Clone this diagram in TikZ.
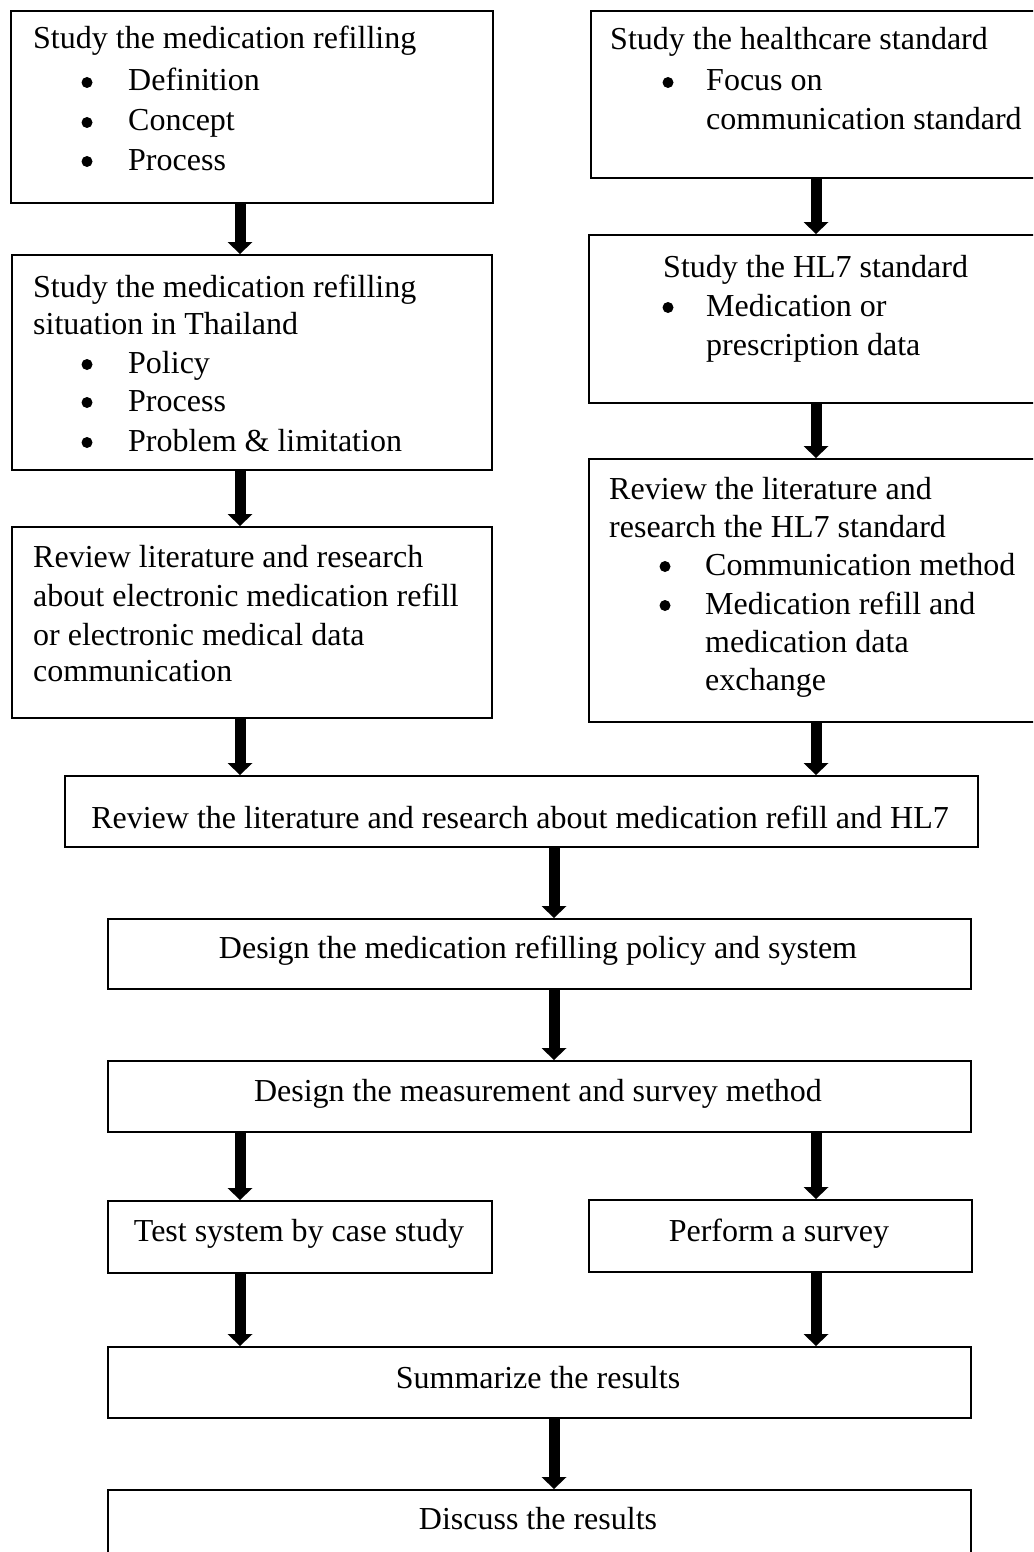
\documentclass[tikz,border=0pt]{standalone}
\usepackage{fontspec}
\setmainfont{Liberation Serif}
\usetikzlibrary{arrows.meta}
\begin{document}
\begin{tikzpicture}[x=1pt,y=-1pt,
  font=\fontsize{32}{39}\selectfont,
  box/.style={draw=black,line width=2pt,inner sep=0pt,anchor=north west,fill=none},
  txt/.style={anchor=base west,inner sep=0pt},
  ctxt/.style={anchor=base,inner sep=0pt},
  bul/.style={circle,fill=black,inner sep=0pt,minimum size=11pt,yshift=8.5pt},
  arr/.style={line width=11pt,-{Triangle[width=25pt,length=12pt,line width=0pt]}}]
\clip (0,0) rectangle (1033,1552);
\fill[white] (0,0) rectangle (1033,1552);
% columns for connectors
\coordinate (colL) at (240,0);
\coordinate (colR) at (816,0);
\coordinate (colM) at (554,0);
% boxes
\node[box,minimum width=482pt,minimum height=192pt] (b1) at (10,10) {};
\node[box,minimum width=480pt,minimum height=215pt] (b2) at (11,254) {};
\node[box,minimum width=480pt,minimum height=191pt] (b3) at (11,526) {};
\node[box,minimum width=450pt,minimum height=167pt] (r1) at (590,10) {};
\node[box,minimum width=452pt,minimum height=168pt] (r2) at (588,234) {};
\node[box,minimum width=452pt,minimum height=263pt] (r3) at (588,458) {};
\node[box,minimum width=913pt,minimum height=71pt] (m1) at (64,775) {};
\node[box,minimum width=863pt,minimum height=70pt] (d1) at (107,918) {};
\node[box,minimum width=863pt,minimum height=71pt] (d2) at (107,1060) {};
\node[box,minimum width=384pt,minimum height=72pt] (t1) at (107,1200) {};
\node[box,minimum width=383pt,minimum height=72pt] (p1) at (588,1199) {};
\node[box,minimum width=863pt,minimum height=71pt] (s1) at (107,1346) {};
\node[box,minimum width=863pt,minimum height=90pt] (c1) at (107,1489) {};
% texts: box b1
\node[txt] (b1t1) at (33,49) {Study the medication refilling};
\node[bul] (b1u1) at (87,91) {};
\node[txt] (b1t2) at (128,91) {Definition};
\node[bul] (b1u2) at (87,131) {};
\node[txt] (b1t3) at (128,131) {Concept};
\node[bul] (b1u3) at (87,170) {};
\node[txt] (b1t4) at (128,170) {Process};
% box b2
\node[txt] (b2t1) at (33,297) {Study the medication refilling};
\node[txt] (b2t2) at (33,334) {situation in Thailand};
\node[bul] (b2u1) at (87,373) {};
\node[txt] (b2t3) at (128,373) {Policy};
\node[bul] (b2u2) at (87,411) {};
\node[txt] (b2t4) at (128,411) {Process};
\node[bul] (b2u3) at (87,451) {};
\node[txt] (b2t5) at (128,451) {Problem \& limitation};
% box b3
\node[txt] (b3t1) at (33,567) {Review literature and research};
\node[txt] (b3t2) at (33,606) {about electronic medication refill};
\node[txt] (b3t3) at (33,645) {or electronic medical data};
\node[txt] (b3t4) at (33,681) {communication};
% box r1
\node[txt] (r1t1) at (610,50) {Study the healthcare standard};
\node[bul] (r1u1) at (668,91) {};
\node[txt] (r1t2) at (706,91) {Focus on};
\node[txt] (r1t3) at (706,130) {communication standard};
% box r2
\node[txt] (r2t1) at (663,277) {Study the HL7 standard};
\node[bul] (r2u1) at (668,316) {};
\node[txt] (r2t2) at (706,316) {Medication or};
\node[txt] (r2t3) at (706,355) {prescription data};
% box r3
\node[txt] (r3t1) at (609,499) {Review the literature and};
\node[txt] (r3t2) at (609,537) {research the HL7 standard};
\node[bul] (r3u1) at (665,575) {};
\node[txt] (r3t3) at (705,575) {Communication method};
\node[bul] (r3u2) at (665,614) {};
\node[txt] (r3t4) at (705,614) {Medication refill and};
\node[txt] (r3t5) at (705,652) {medication data};
\node[txt] (r3t6) at (705,690) {exchange};
% single-line boxes
\node[ctxt] (m1t) at (520,828) {Review the literature and research about medication refill and HL7};
\node[ctxt] (d1t) at (538,958) {Design the medication refilling policy and system};
\node[ctxt] (d2t) at (538,1101) {Design the measurement and survey method};
\node[ctxt] (t1t) at (299,1241) {Test system by case study};
\node[ctxt] (p1t) at (779,1241) {Perform a survey};
\node[ctxt] (s1t) at (538,1388) {Summarize the results};
\node[ctxt] (c1t) at (538,1529) {Discuss the results};
% connectors
\draw[arr] (b1.south -| colL) -- (b2.north -| colL);
\draw[arr] (b2.south -| colL) -- (b3.north -| colL);
\draw[arr] (b3.south -| colL) -- (m1.north -| colL);
\draw[arr] (r1.south -| colR) -- (r2.north -| colR);
\draw[arr] (r2.south -| colR) -- (r3.north -| colR);
\draw[arr] (r3.south -| colR) -- (m1.north -| colR);
\draw[arr] (m1.south -| colM) -- (d1.north -| colM);
\draw[arr] (d1.south -| colM) -- (d2.north -| colM);
\draw[arr] (d2.south -| colL) -- (t1.north -| colL);
\draw[arr] (d2.south -| colR) -- (p1.north -| colR);
\draw[arr] (t1.south -| colL) -- (s1.north -| colL);
\draw[arr] (p1.south -| colR) -- (s1.north -| colR);
\draw[arr] (s1.south -| colM) -- (c1.north -| colM);
\end{tikzpicture}
\end{document}
